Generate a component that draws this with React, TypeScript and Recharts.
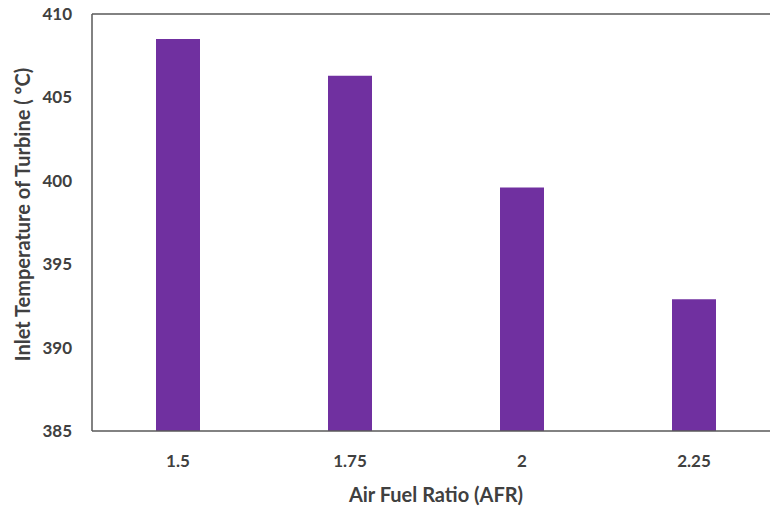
import { BarChart, Bar, XAxis, YAxis, ReferenceLine, Label } from "recharts";

const afr = ["1.5", "1.75", "2", "2.25"];
const inletTemp = [408.5, 406.3, 399.6, 392.9];
const yTicks = [385, 390, 395, 400, 405, 410];

const data = afr.map((a, i) => ({ afr: a, temp: inletTemp[i] }));

const FONT = "Lato, 'Open Sans', sans-serif";
const AXIS = "#595959";
const TEXT = "#404040";

export default function App() {
  return (
    <div
      style={{
        position: "absolute",
        left: 0,
        top: 0,
        width: 770,
        height: 506,
        overflow: "hidden",
        background: "#fff",
      }}
    >
      <BarChart
        width={780}
        height={506}
        data={data}
        margin={{ top: 14, right: 0, bottom: 0, left: 0 }}
        barSize={44}
      >
        <ReferenceLine y={410} stroke={AXIS} strokeWidth={1.5} />
        <XAxis
          dataKey="afr"
          height={75}
          tickLine={false}
          axisLine={{ stroke: AXIS, strokeWidth: 1.5 }}
          tick={{ fill: TEXT, fontSize: 17, fontWeight: 700, fontFamily: FONT }}
          tickMargin={18}
        >
          <Label
            value="Air Fuel Ratio (AFR)"
            position="insideBottom"
            offset={4}
            style={{ fill: TEXT, fontSize: 20, fontWeight: 700, fontFamily: FONT }}
          />
        </XAxis>
        <YAxis
          width={92}
          domain={[385, 410]}
          ticks={yTicks}
          allowDataOverflow
          tickLine={false}
          axisLine={{ stroke: AXIS, strokeWidth: 1.5 }}
          tick={{ fill: TEXT, fontSize: 17, fontWeight: 700, fontFamily: FONT }}
          tickMargin={14}
        >
          <Label
            value="Inlet Temperature of Turbine ( ºC)"
            angle={-90}
            position="center"
            dx={-23}
            dy={-8}
            style={{ fill: TEXT, fontSize: 20, fontWeight: 700, fontFamily: FONT, textAnchor: "middle" }}
          />
        </YAxis>
        <Bar dataKey="temp" fill="#7030A0" isAnimationActive={false} />
      </BarChart>
    </div>
  );
}
